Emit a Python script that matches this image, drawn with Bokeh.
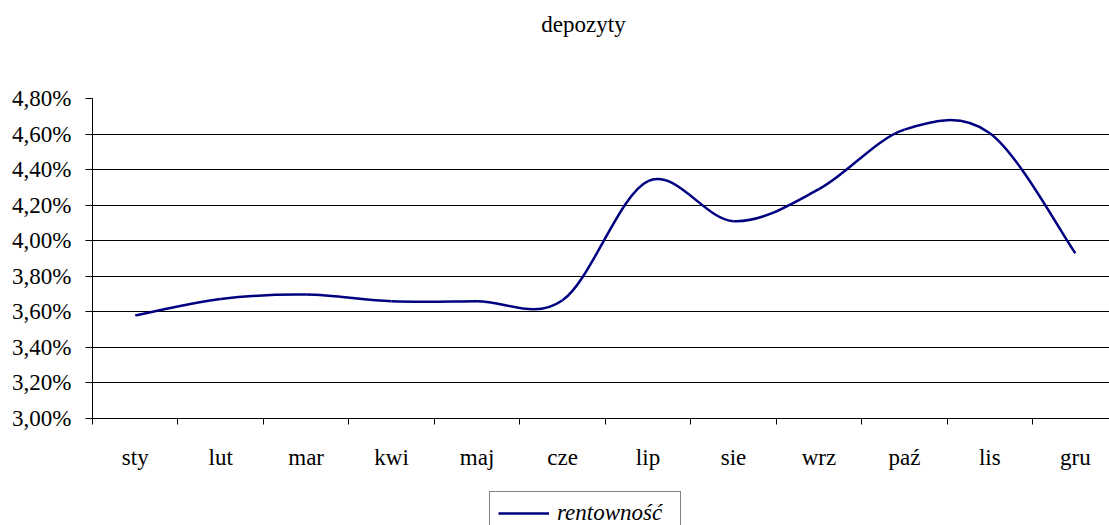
from bokeh.plotting import figure
from bokeh.layouts import column
from bokeh.models import (ColumnDataSource, FixedTicker, Legend, LegendItem, Range1d, Label)
from bokeh.embed import file_html
from bokeh.resources import INLINE

months = ["sty", "lut", "mar", "kwi", "maj", "cze", "lip", "sie", "wrz", "paź", "lis", "gru"]
rentownosc = [3.58, 3.672, 3.697, 3.66, 3.66, 3.665, 4.335, 4.11, 4.29, 4.625, 4.605, 3.93]
y_ticks = [3.0, 3.2, 3.4, 3.6, 3.8, 4.0, 4.2, 4.4, 4.6, 4.8]
title_text = "depozyty"
series_name = "rentowność"

FONT = "Liberation Serif"
FS = "23px"
LINE_COLOR = "#000080"
W = 1109
LEFT = 92

n = len(months)
xs = [i + 0.5 for i in range(n)]

# Smoothed curve (Catmull-Rom style cubic Bezier segments, as in spreadsheet "smoothed line")
def ctrl(i):
    return max(0, min(n - 1, i))

x0, y0, x1, y1, cx0, cy0, cx1, cy1 = [], [], [], [], [], [], [], []
for i in range(n - 1):
    pm, p0, p1, p2_ = ctrl(i - 1), i, i + 1, ctrl(i + 2)
    x0.append(xs[p0]); y0.append(rentownosc[p0])
    x1.append(xs[p1]); y1.append(rentownosc[p1])
    cx0.append(xs[p0] + (xs[p1] - xs[pm]) / 6)
    cy0.append(rentownosc[p0] + (rentownosc[p1] - rentownosc[pm]) / 6)
    cx1.append(xs[p1] - (xs[p2_] - xs[p0]) / 6)
    cy1.append(rentownosc[p1] - (rentownosc[p2_] - rentownosc[p0]) / 6)

src = ColumnDataSource(dict(x0=x0, y0=y0, x1=x1, y1=y1, cx0=cx0, cy0=cy0, cx1=cx1, cy1=cy1))


def strip(h, yr):
    f = figure(width=W, height=h, output_backend="svg", toolbar_location=None, title=None,
               x_range=Range1d(LEFT, W), y_range=yr,
               x_axis_location=None, y_axis_location=None,
               min_border_left=LEFT, min_border_right=0, min_border_top=0, min_border_bottom=0)
    f.grid.grid_line_color = None
    f.outline_line_color = None
    f.border_fill_color = "white"
    f.background_fill_color = "white"
    return f


# --- title strip ---
t = strip(85, Range1d(0, 85))
t.add_layout(Label(x=583, y=61, text=title_text, text_align="center", text_baseline="middle",
                   text_font=FONT, text_font_size=FS, text_color="black"))

# --- main chart ---
p = figure(width=W, height=387, output_backend="svg", toolbar_location=None, title=None,
           x_range=Range1d(0, 11.9), y_range=Range1d(3.0, 4.8),
           min_border_left=LEFT, min_border_right=0, min_border_top=13, min_border_bottom=0)
p.outline_line_color = None
p.background_fill_color = "white"
p.border_fill_color = "white"

p.bezier(x0="x0", y0="y0", x1="x1", y1="y1", cx0="cx0", cy0="cy0", cx1="cx1", cy1="cy1",
         source=src, line_color=LINE_COLOR, line_width=2.5)

# x axis
p.xaxis.ticker = FixedTicker(ticks=xs, minor_ticks=list(range(n + 1)))
p.xaxis.major_label_overrides = {x: m for x, m in zip(xs, months)}
p.xaxis.major_tick_out = 0
p.xaxis.major_tick_in = 0
p.xaxis.minor_tick_out = 6
p.xaxis.minor_tick_in = 0
p.xaxis.minor_tick_line_color = "black"
p.xaxis.axis_line_color = "black"
p.xaxis.major_label_standoff = 20
p.xaxis.major_label_text_font = FONT
p.xaxis.major_label_text_font_size = FS
p.xaxis.major_label_text_color = "black"

# y axis
p.yaxis.ticker = FixedTicker(ticks=y_ticks, minor_ticks=[])
p.yaxis.major_label_overrides = {t_: ("%.2f%%" % t_).replace(".", ",") for t_ in y_ticks}
p.yaxis.major_tick_out = 7
p.yaxis.major_tick_in = 0
p.yaxis.major_tick_line_color = "black"
p.yaxis.axis_line_color = "black"
p.yaxis.major_label_standoff = 14
p.yaxis.major_label_text_font = FONT
p.yaxis.major_label_text_font_size = FS
p.yaxis.major_label_text_color = "black"

p.xgrid.grid_line_color = None
p.ygrid.grid_line_color = "black"
p.ygrid.grid_line_alpha = 1.0
p.ygrid.grid_line_width = 1

# --- legend strip (series drawn out of view; only its legend entry shows) ---
q = strip(53, Range1d(10, 20))
lr = q.line(x=xs, y=rentownosc, line_color=LINE_COLOR, line_width=2.5)

legend = Legend(items=[LegendItem(label=series_name, renderers=[lr])],
                location=(397, -10), orientation="horizontal")
legend.border_line_color = "black"
legend.border_line_width = 1
legend.background_fill_alpha = 1.0
legend.label_text_font = FONT
legend.label_text_font_size = FS
legend.label_text_font_style = "italic"
legend.label_text_color = "black"
legend.glyph_width = 51
legend.label_width = 115
legend.padding = 8
legend.margin = 0
legend.label_standoff = 8
q.add_layout(legend, "center")

open("out.html", "w").write(file_html(column(t, p, q, spacing=0), INLINE))
